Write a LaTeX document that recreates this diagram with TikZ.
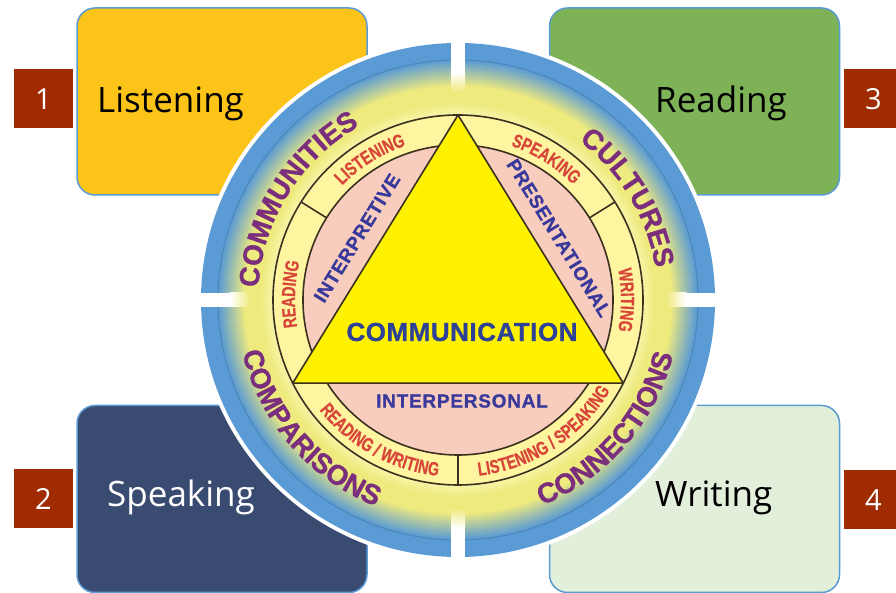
\documentclass[tikz,border=0pt]{standalone}
\usepackage{fontspec}
\setmainfont{Open Sans}
\newfontfamily\wheelfont[FakeBold=1.2]{Liberation Sans Bold}
\newfontfamily\narrowfont[FakeStretch=0.75, FakeBold=0.6]{Liberation Sans Bold}
\newfontfamily\labelfont[LetterSpace=4, FakeBold=1]{Liberation Sans Bold}
\usetikzlibrary{positioning, decorations.text}

\definecolor{listenfill}{HTML}{FCC419}
\definecolor{readfill}{HTML}{7DB257}
\definecolor{speakfill}{HTML}{3A4B72}
\definecolor{writefill}{HTML}{E2EFDA}
\definecolor{edgeblue}{HTML}{5B9BD5}
\definecolor{numred}{HTML}{A02B00}
\definecolor{ringblue}{HTML}{5B9BD5}
\definecolor{bandyellow}{HTML}{EEEA7E}
\definecolor{glowyellow}{HTML}{F8F4A6}
\definecolor{paleyellow}{HTML}{FFF5A0}
\definecolor{pinkfill}{HTML}{F8CDBE}
\definecolor{triyellow}{HTML}{FFF200}
\definecolor{wordpurple}{HTML}{7A2E7C}
\definecolor{ringred}{HTML}{D8463A}
\definecolor{modeblue}{HTML}{38399A}
\definecolor{commblue}{HTML}{2D4196}
\definecolor{lineblack}{HTML}{3A3020}

\newcommand{\outerfont}{\wheelfont\fontsize{28}{30}\selectfont}
\newcommand{\ringfont}{\narrowfont\fontsize{19}{21}\selectfont}
\newcommand{\modefont}{\labelfont\fontsize{19}{21}\selectfont}

\begin{document}
\begin{tikzpicture}[x=1pt, y=1pt,
  box/.style={rectangle, draw=edgeblue, line width=1.5pt, rounded corners=18pt,
              minimum width=290pt, minimum height=187pt, inner sep=0pt},
  numsq/.style={rectangle, fill=numred, minimum size=59pt, inner sep=0pt,
              text=white, font=\fontsize{29}{31}\selectfont},
  skill/.style={anchor=base west, inner sep=0pt, font=\fontsize{35}{38}\selectfont},
  outerword/.style={decorate, decoration={text along path, text align=center, text color=wordpurple}},
  ringword/.style={decorate, decoration={text along path, text align=center, text color=ringred}},
  mode/.style={text=modeblue, font=\modefont, inner sep=0pt},
  divider/.style={draw=lineblack, line width=1.6pt}
]
\useasboundingbox (0,0) rectangle (896,593);

% Skill boxes
\node[box, fill=listenfill] (listen) at (222,491.5) {};
\node[box, fill=readfill]   (read)   at (694.5,491.5) {};
\node[box, fill=speakfill]  (speak)  at (222,94) {};
\node[box, fill=writefill]  (write)  at (694.5,94) {};

\node[skill] (listentxt) at (97,480) {Listening};
\node[skill] (readtxt)   at (655,480) {Reading};
\node[skill, text=white] (speaktxt) at (107,86) {Speaking};
\node[skill] (writetxt)  at (655,86) {Writing};

% Numbers
\node[numsq] (n1) at (43.5,494) {1};
\node[numsq] (n2) at (43.5,94) {2};
\node[numsq] (n3) at (873.5,494) {3};
\node[numsq] (n4) at (873.5,93) {4};

% Wheel
\begin{scope}[shift={(458,293)}]
  \fill[white] (0,0) circle[radius=261];
  \fill[ringblue] (0,0) circle[radius=257];
  \foreach \i in {0,...,26} {
    \pgfmathtruncatemacro\p{\i*100/26}
    \fill[bandyellow!\p!ringblue] (0,0) circle[radius=240-\i];
  }
  \foreach \i in {0,...,12} {
    \pgfmathtruncatemacro\p{\i*100/12}
    \fill[glowyellow!\p!bandyellow] (0,0) circle[radius=198-\i];
  }
  \draw[ringblue!60!black, opacity=.35, line width=1pt] (0,0) circle[radius=240];

  % white gaps
  \fill[white] (-7,228) rectangle (7,262);
  \shade[top color=white, bottom color=bandyellow] (-7,208) rectangle (7,228);
  \fill[white] (-7,-262) rectangle (7,-228);
  \shade[bottom color=white, top color=bandyellow] (-7,-228) rectangle (7,-208);
  \fill[white] (-262,-7) rectangle (-228,7);
  \shade[left color=white, right color=bandyellow] (-228,-7) rectangle (-208,7);
  \fill[white] (228,-7) rectangle (262,7);
  \shade[right color=white, left color=bandyellow] (208,-7) rectangle (228,7);

  % standards
  \path[outerword, decoration={text={|\outerfont|COMMUNITIES}}] (208:200) arc[start angle=208, end angle=88, radius=200];
  \path[outerword, decoration={text={|\outerfont|CULTURES}}] (91:200) arc[start angle=91, end angle=-29, radius=200];
  \path[outerword, decoration={text={|\outerfont|COMPARISONS}}] (161:222) arc[start angle=161, end angle=281, radius=222];
  \path[outerword, decoration={text={|\outerfont|CONNECTIONS}}] (259:222) arc[start angle=259, end angle=379, radius=222];

  % rings
  \filldraw[fill=paleyellow, divider] (0,0) circle[radius=185];
  \filldraw[fill=pinkfill, divider] (0,0) circle[radius=155];
  \draw[divider] (148:155) -- (148:185);
  \draw[divider] (32:155) -- (32:185);
  \draw[divider] (270:155) -- (270:185);

  \path[ringword, decoration={text={|\ringfont|LISTENING}}] (152:163) arc[start angle=152, end angle=92, radius=163];
  \path[ringword, decoration={text={|\ringfont|SPEAKING}}] (88:163) arc[start angle=88, end angle=28, radius=163];
  \path[ringword, decoration={text={|\ringfont|READING}}] (208:163) arc[start angle=208, end angle=148, radius=163];
  \path[ringword, decoration={text={|\ringfont|WRITING}}] (30:163) arc[start angle=30, end angle=-30, radius=163];
  \path[ringword, decoration={text={|\ringfont|READING / WRITING}}] (191:177) arc[start angle=191, end angle=291, radius=177];
  \path[ringword, decoration={text={|\ringfont|LISTENING / SPEAKING}}] (253:177) arc[start angle=253, end angle=353, radius=177];

  % triangle
  \coordinate (ta) at (90:185);
  \coordinate (tl) at (206.7:185);
  \coordinate (tr) at (333.3:185);
  \filldraw[fill=triyellow, divider, line join=round] (ta) -- (tl) -- (tr) -- cycle;

  \node[mode, rotate=58.4]  (interp) at (-101,62) {INTERPRETIVE};
  \node[mode, rotate=-58.4] (present) at (101,62) {PRESENTATIONAL};
  \node[mode] (interpers) at (4,-101) {INTERPERSONAL};
  \node[text=commblue, inner sep=0pt, font={\labelfont\addfontfeature{LetterSpace=2}\fontsize{26}{28}\selectfont}] (comm) at (4,-32) {COMMUNICATION};
\end{scope}
\end{tikzpicture}
\end{document}
